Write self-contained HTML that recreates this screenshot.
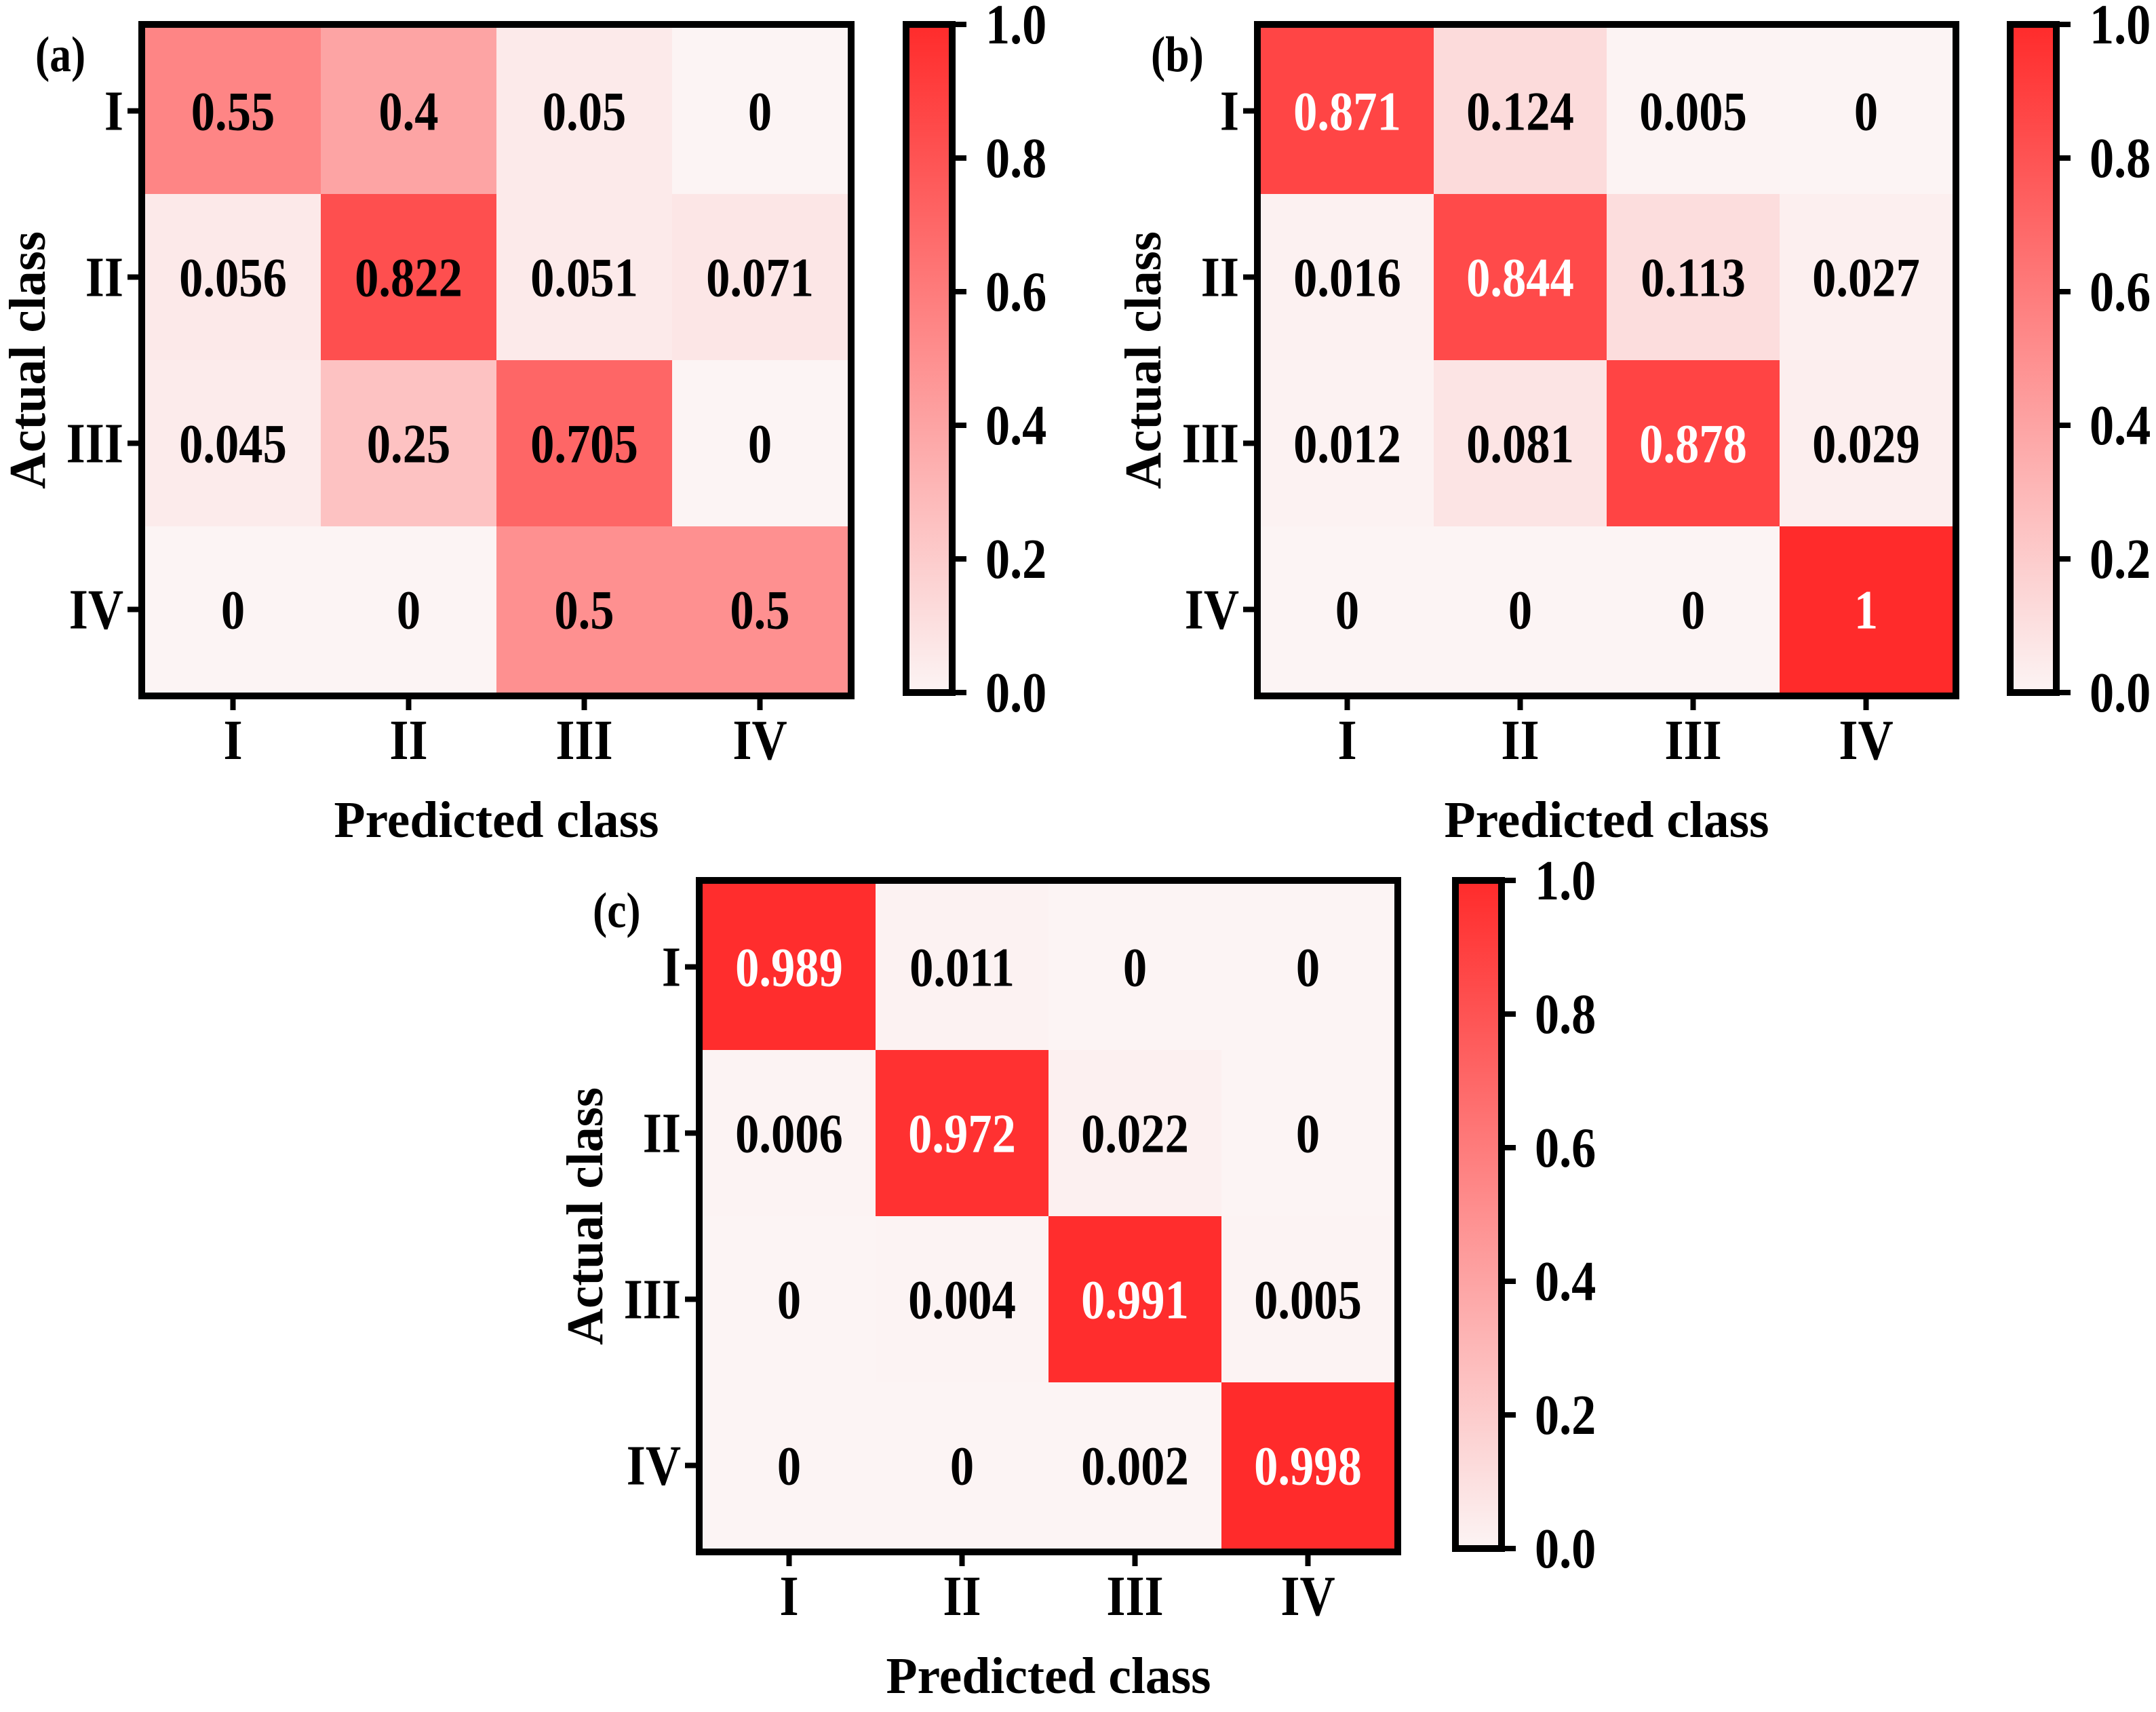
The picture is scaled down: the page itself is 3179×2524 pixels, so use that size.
<!DOCTYPE html>
<html><head><meta charset="utf-8">
<style>
html,body{margin:0;padding:0;background:#fff;}
svg{display:block;}
text{font-family:"Liberation Serif",serif;font-weight:bold;}
</style></head>
<body>
<svg id="fig" width="3179" height="2524" viewBox="0 0 3179 2524" xmlns="http://www.w3.org/2000/svg">
<defs>
<linearGradient id="cmap" x1="0" y1="1" x2="0" y2="0">
<stop offset="0" stop-color="#fcf4f4"/>
<stop offset="1" stop-color="#ff2b2b"/>
</linearGradient>
</defs>
</svg>
<script>
const classLabels = ["I", "II", "III", "IV"];
const colorbarTicks = [0.0, 0.2, 0.4, 0.6, 0.8, 1.0];
const colorbarTickLabels = ["0.0", "0.2", "0.4", "0.6", "0.8", "1.0"];
const matrixA = [
  [0.55, 0.4, 0.05, 0],
  [0.056, 0.822, 0.051, 0.071],
  [0.045, 0.25, 0.705, 0],
  [0, 0, 0.5, 0.5]
];
const matrixB = [
  [0.871, 0.124, 0.005, 0],
  [0.016, 0.844, 0.113, 0.027],
  [0.012, 0.081, 0.878, 0.029],
  [0, 0, 0, 1]
];
const matrixC = [
  [0.989, 0.011, 0, 0],
  [0.006, 0.972, 0.022, 0],
  [0, 0.004, 0.991, 0.005],
  [0, 0, 0.002, 0.998]
];
const panelLetters = ["(a)", "(b)", "(c)"];

const NS = "http://www.w3.org/2000/svg";
const svg = document.getElementById("fig");
function mk(tag, attrs, parent) {
  const e = document.createElementNS(NS, tag);
  for (const k in attrs) e.setAttribute(k, attrs[k]);
  (parent || svg).appendChild(e);
  return e;
}
function txt(x, y, size, anchor, fill, parent) {
  return mk("text", {x: 0, y: 0, "font-size": size, "text-anchor": anchor, fill: fill || "#000",
    transform: "translate(" + x + " " + y + ") scale(0.86 1)"}, parent);
}
function color(v) {
  const r = Math.round(252 + (255 - 252) * v);
  const g = Math.round(244 + (43 - 244) * v);
  return "rgb(" + r + "," + g + "," + g + ")";
}
function fmt(v) { return String(v); }

const layouts = [
  {x0: 214, y0: 41, cw: 259, ch: 245, cbx: 1331},
  {x0: 1859, y0: 41, cw: 255, ch: 245, cbx: 2959},
  {x0: 1036, y0: 1303, cw: 255, ch: 245, cbx: 2141}
];
const matrices = [matrixA, matrixB, matrixC];

matrices.forEach((m, p) => {
  const L = layouts[p];
  const g = mk("g", {});
  
  
  const n = classLabels.length;
  const xs = i => L.x0 + i * L.cw;
  const ys = j => L.y0 + j * L.ch;
  const W = n * L.cw, H = n * L.ch;
  m.forEach((row, r) => {
    row.forEach((v, c) => {
      const rect = mk("rect", {x: xs(c), y: ys(r), width: L.cw + 0.5, height: L.ch + 0.5, fill: color(v)}, g);
      
      
      const t = txt(xs(c) + L.cw / 2, ys(r) + L.ch / 2 + 28, 82, "middle", v > 0.83 ? "#fff" : "#000", g);
      t.textContent = fmt(v);
      
      
    });
  });
  const fr = mk("rect", {x: L.x0 - 5, y: L.y0 - 5, width: W + 10, height: H + 10, fill: "none", stroke: "#000", "stroke-width": 10}, g);
  
  
  classLabels.forEach((lab, i) => {
    const cx = xs(i) + L.cw / 2;
    mk("line", {x1: cx, y1: L.y0 + H + 10, x2: cx, y2: L.y0 + H + 26, stroke: "#000", "stroke-width": 8}, g);
    const tx = txt(cx, L.y0 + H + 98, 84, "middle", "#000", g);
    tx.textContent = lab;
    
    
    const cy = ys(i) + L.ch / 2;
    mk("line", {x1: L.x0 - 10, y1: cy, x2: L.x0 - 26, y2: cy, stroke: "#000", "stroke-width": 8}, g);
    const ty = txt(L.x0 - 32, cy + 28, 84, "end", "#000", g);
    ty.textContent = lab;
    
    
  });
  const xt = mk("text", {x: L.x0 + W / 2, y: L.y0 + H + 213, "font-size": 76, "text-anchor": "middle", textLength: 479, lengthAdjust: "spacingAndGlyphs"}, g);
  xt.textContent = "Predicted class";
  
  
  const yx = L.x0 - 148, yy = L.y0 + H / 2;
  const yt = mk("text", {x: yx, y: yy, "font-size": 76, "text-anchor": "middle", textLength: 380, lengthAdjust: "spacingAndGlyphs", transform: "rotate(-90 " + yx + " " + yy + ")"}, g);
  yt.textContent = "Actual class";
  
  
  const pl = txt(L.x0 - 162, L.y0 + 64, 74, "start", "#000", g);
  pl.textContent = panelLetters[p];
  
  
  const top = L.y0 - 5, bot = L.y0 + H;
  const cb = mk("rect", {x: L.cbx + 5, y: top, width: 68, height: bot - top, fill: "url(#cmap)", stroke: "#000", "stroke-width": 10}, g);
  
  
  const cy = v => bot - v * (bot - top);
  colorbarTicks.forEach((v, i) => {
    mk("line", {x1: L.cbx + 73, y1: cy(v), x2: L.cbx + 94, y2: cy(v), stroke: "#000", "stroke-width": 8}, g);
    const t = txt(L.cbx + 122, cy(v) + 28, 84, "start", "#000", g);
    t.textContent = colorbarTickLabels[i];
    
    
  });
});
</script>
</body></html>
